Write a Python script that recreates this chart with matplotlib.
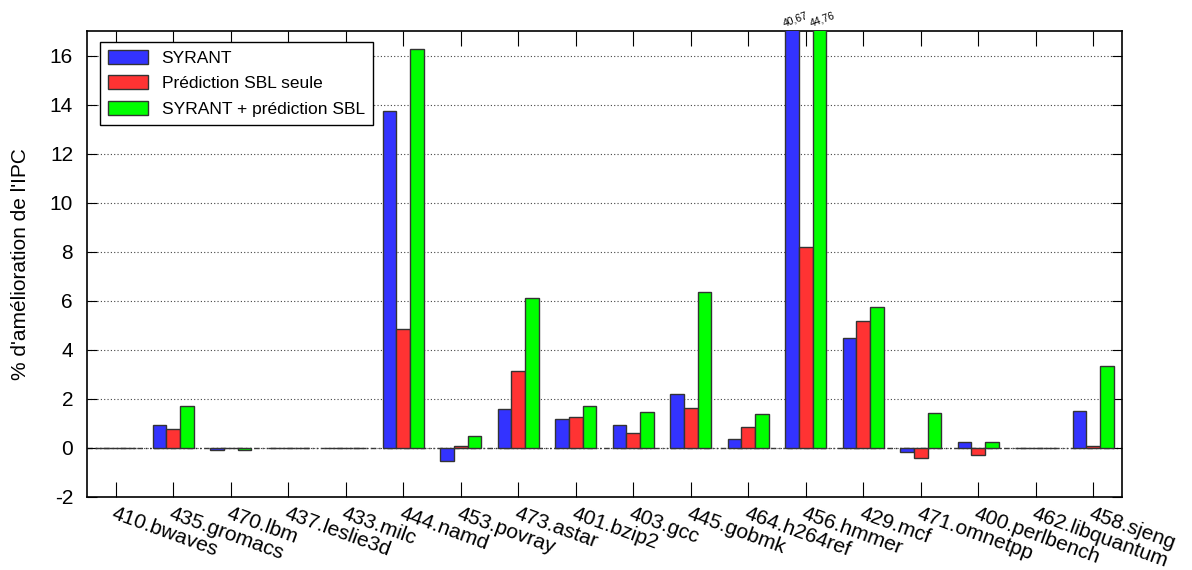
import numpy as np
import matplotlib
matplotlib.use("Agg")
import matplotlib.pyplot as plt

benchmarks = ["410.bwaves", "435.gromacs", "470.lbm", "437.leslie3d", "433.milc",
              "444.namd", "453.povray", "473.astar", "401.bzip2", "403.gcc",
              "445.gobmk", "464.h264ref", "456.hmmer", "429.mcf", "471.omnetpp",
              "400.perlbench", "462.libquantum", "458.sjeng"]
syrant = [0.01, 0.94, -0.09, -0.02, 0.01, 13.72, -0.54, 1.57, 1.17, 0.94,
          2.19, 0.37, 40.67, 4.49, -0.16, 0.24, 0.01, 1.50]
sbl_only = [0.0, 0.79, -0.02, -0.02, 0.01, 4.86, 0.08, 3.12, 1.28, 0.61,
            1.62, 0.84, 8.18, 5.16, -0.41, -0.27, 0.01, 0.07]
syrant_sbl = [0.01, 1.70, -0.09, -0.02, 0.01, 16.26, 0.48, 6.11, 1.69, 1.48,
              6.37, 1.39, 44.76, 5.74, 1.44, 0.26, 0.01, 3.35]
series_names = ["SYRANT", "Prédiction SBL seule", "SYRANT + prédiction SBL"]
series_colors = ["#3333ff", "#ff3333", "#00ff00"]

plt.rcParams["font.family"] = ["Liberation Sans", "DejaVu Sans"]
plt.rcParams["axes.unicode_minus"] = False

fig = plt.figure(figsize=(11.92, 5.70), dpi=100)
ax = fig.add_axes([87 / 1192, 1 - 497 / 570, 1035 / 1192, 466 / 570])

x = np.arange(len(benchmarks))
w = 0.236
ymax = 17
for i, (vals, name, col) in enumerate(zip([syrant, sbl_only, syrant_sbl], series_names, series_colors)):
    ax.bar(x + (i - 1) * w, vals, w, color=col, edgecolor="#333333", linewidth=1.0,
           label=name, zorder=3)
    # values beyond the top of the axis get written above it
    for xi, v in zip(x, vals):
        if v > ymax:
            ax.annotate(f"{v:.2f}".replace(".", ","), (xi + (i - 1) * w, ymax),
                        xytext=(2, 2), textcoords="offset points", ha="center", va="bottom",
                        rotation=20, fontsize=7.5, annotation_clip=False)

ax.set_xlim(-0.5, len(benchmarks) - 0.5)
ax.set_ylim(-2, ymax)
ax.set_yticks(range(-2, 17, 2))
ax.set_xticks(x)
ax.set_xticklabels(benchmarks, rotation=-20, ha="left", va="top", rotation_mode="anchor",
                   fontsize=15)
ax.tick_params(axis="x", direction="in", length=11, top=True, pad=5)
ax.tick_params(axis="y", direction="in", length=7, right=True, labelsize=15, pad=10)
for s in ax.spines.values():
    s.set_linewidth(1.2)

ax.yaxis.grid(True, linestyle=(0, (1, 2)), color="#444444", linewidth=0.8, zorder=0)
ax.axhline(0, color="#333333", linewidth=1.0, dashes=(4, 2, 1, 2, 1, 2), zorder=1)

ax.set_ylabel("% d'amélioration de l'IPC", fontsize=15, labelpad=14)

ax.legend(loc="upper left", bbox_to_anchor=(100 / 1192, 1 - 42 / 570),
          bbox_transform=fig.transFigure, borderaxespad=0, fontsize=12.5,
          fancybox=False, framealpha=1, edgecolor="black", handlelength=2.3,
          handleheight=0.85, labelspacing=0.55, borderpad=0.45)

fig.savefig("out.png", dpi=100)
